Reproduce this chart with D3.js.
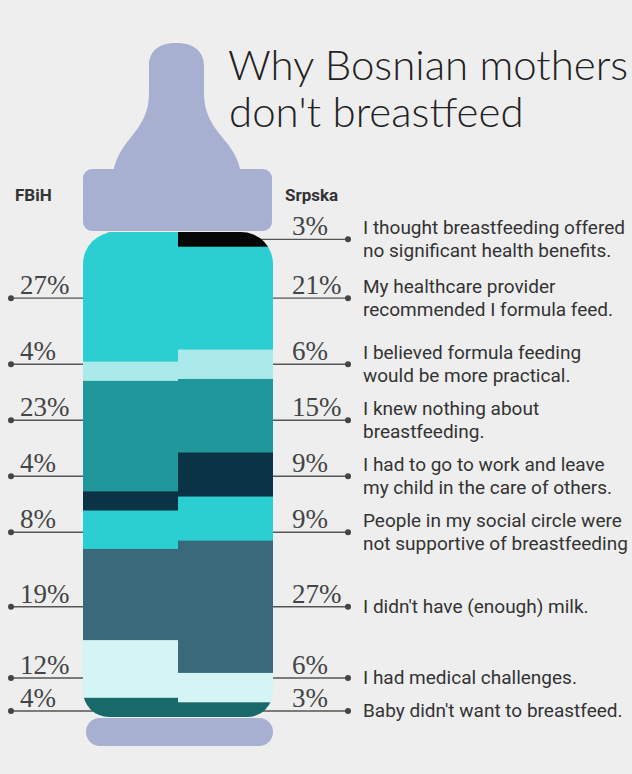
<!DOCTYPE html>
<html>
<head>
    <meta charset="utf-8">
    <title>why bosnian mothers don't breastfeed</title>
    <style>
    body {margin: 0; background: #eeeeee}
    .title {font: 300 42px Lato, sans-serif; fill: #222}
    .region {font: bold 17px Roboto, sans-serif; fill: #333}
    .pct {font: 27px 'Liberation Serif', serif; fill: #444}
    .reason {font: 19px Roboto, sans-serif; fill: #333}
    </style>
</head>
<body>
<script src="https://cdnjs.cloudflare.com/ajax/libs/d3/7.8.5/d3.min.js"></script>
<script>

var width = 632,
    height = 774

// survey answers, top of the bottle to the bottom
var reasons = [
    ['I thought breastfeeding offered', 'no significant health benefits.'],
    ['My healthcare provider', 'recommended I formula feed.'],
    ['I believed formula feeding', 'would be more practical.'],
    ['I knew nothing about', 'breastfeeding.'],
    ['I had to go to work and leave', 'my child in the care of others.'],
    ['People in my social circle were', 'not supportive of breastfeeding'],
    ["I didn't have (enough) milk."],
    ['I had medical challenges.'],
    ["Baby didn't want to breastfeed."]
]
var regions = ['FBiH', 'Srpska']
var fbih = [0, 27, 4, 23, 4, 8, 19, 12, 4]
var srpska = [3, 21, 6, 15, 9, 9, 27, 6, 3]
var fills = ['#060606', '#2ccfd1', '#aaeaeb', '#20979a', '#0a3346', '#2ccfd1', '#386a7c', '#d4f4f6', '#186a6a']

var body = {x0: 83, x1: 273, y0: 232, y1: 717}
var lavender = '#a7b0d1'
var lineH = 23

var svg = d3.select('body').append('svg')
    .attr('width', width)
    .attr('height', height)

// title
var title = svg.append('g').attr('class', 'title')
title.append('text').attr('x', 228).attr('y', 80).text('Why Bosnian mothers')
title.append('text').attr('x', 229).attr('y', 127).text("don't breastfeed")

// scales
var x = d3.scaleBand().domain(regions).range([body.x0, body.x1])
var columns = [fbih, srpska].map(function(vals, c){
    var y = d3.scaleLinear().domain([0, d3.sum(vals)]).range([body.y0, body.y1])
    var ends = d3.cumsum(vals)
    return vals.map(function(v, i){
        return {region: regions[c], i: i, value: v, top: y(ends[i] - v), bottom: y(ends[i])}
    })
})

// label heights follow the Srpska column, then get pushed apart so text blocks don't collide
var labelY = columns[1].map(function(d){ return (d.top + d.bottom) / 2 })
function gap(i){ return lineH / 2 * (reasons[i].length + reasons[i + 1].length) + 10 }
for (var i = 1; i < labelY.length; i++) {
    labelY[i] = Math.max(labelY[i], labelY[i - 1] + gap(i - 1))
}
labelY[labelY.length - 1] = Math.min(labelY[labelY.length - 1], body.y1 - 6)
for (var j = labelY.length - 2; j >= 0; j--) {
    labelY[j] = Math.min(labelY[j], labelY[j + 1] - gap(j))
}

// leader lines (drawn first so the bottle covers them)
var leaders = svg.append('g')
reasons.forEach(function(r, i){
    var yy = labelY[i]
    if (fbih[i] > 0) {
        leaders.append('line').attr('x1', 11).attr('x2', 150).attr('y1', yy).attr('y2', yy)
            .attr('stroke', '#555').attr('stroke-width', 1.3)
        leaders.append('circle').attr('cx', 11).attr('cy', yy).attr('r', 3).attr('fill', '#444')
        leaders.append('text').attr('class', 'pct').attr('x', 20).attr('y', yy - 4).text(fbih[i] + '%')
    }
    leaders.append('line').attr('x1', 200).attr('x2', 348).attr('y1', yy).attr('y2', yy)
        .attr('stroke', '#555').attr('stroke-width', 1.3)
    leaders.append('circle').attr('cx', 348).attr('cy', yy).attr('r', 3).attr('fill', '#444')
    leaders.append('text').attr('class', 'pct').attr('x', 292).attr('y', yy - 4).text(srpska[i] + '%')

    var n = r.length
    leaders.append('g').selectAll('text').data(r).enter().append('text')
        .attr('class', 'reason')
        .attr('x', 363)
        .attr('y', function(d, k){ return yy + 6 - lineH / 2 * (n - 1) + lineH * k })
        .text(function(d){ return d })
})

// teat
var teat = d3.path()
teat.moveTo(113, 172)
teat.bezierCurveTo(118, 150, 128, 142, 138, 128)
teat.bezierCurveTo(146, 116, 149, 106, 149, 92)
teat.lineTo(149, 66)
teat.bezierCurveTo(149, 50, 160, 43, 176, 43)
teat.bezierCurveTo(192, 43, 204, 50, 204, 66)
teat.lineTo(204, 92)
teat.bezierCurveTo(204, 106, 207, 116, 215, 128)
teat.bezierCurveTo(225, 142, 236, 150, 241, 172)
teat.closePath()
svg.append('path').attr('d', teat.toString()).attr('fill', lavender)

// collar and base
svg.append('rect').attr('x', 83).attr('y', 169).attr('width', 189).attr('height', 62)
    .attr('rx', 9).attr('fill', lavender)
svg.append('rect').attr('x', 86).attr('y', 718).attr('width', 187).attr('height', 28)
    .attr('rx', 14).attr('fill', lavender)

// bottle body outline used as clip
function bodyPath(rt, rb){
    var p = d3.path()
    p.moveTo(body.x0 + rt, body.y0)
    p.lineTo(body.x1 - rt, body.y0)
    p.arcTo(body.x1, body.y0, body.x1, body.y0 + rt, rt)
    p.lineTo(body.x1, body.y1 - rb)
    p.arcTo(body.x1, body.y1, body.x1 - rb, body.y1, rb)
    p.lineTo(body.x0 + rb, body.y1)
    p.arcTo(body.x0, body.y1, body.x0, body.y1 - rb, rb)
    p.lineTo(body.x0, body.y0 + rt)
    p.arcTo(body.x0, body.y0, body.x0 + rt, body.y0, rt)
    p.closePath()
    return p.toString()
}
svg.append('clipPath').attr('id', 'bottle').append('path').attr('d', bodyPath(32, 26))

// milk segments
svg.append('g').attr('clip-path', 'url(#bottle)')
    .selectAll('g').data(columns).enter().append('g')
    .selectAll('rect').data(function(d){ return d }).enter().append('rect')
    .attr('x', function(d){ return x(d.region) })
    .attr('width', x.bandwidth() + 0.5)
    .attr('y', function(d){ return d.top })
    .attr('height', function(d){ return d.bottom - d.top + 0.5 })
    .attr('fill', function(d){ return fills[d.i] })

// region headers
svg.append('text').attr('class', 'region').attr('x', 15).attr('y', 201).text(regions[0])
svg.append('text').attr('class', 'region').attr('x', 285).attr('y', 201).text(regions[1])

</script>
</body>
</html>
